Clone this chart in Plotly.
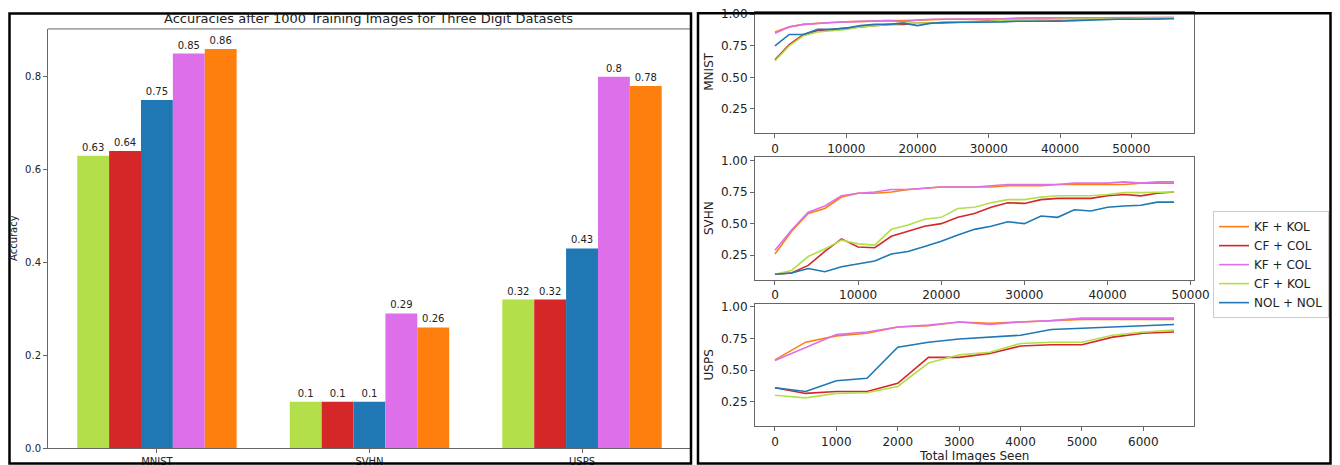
import plotly.graph_objects as go

W, H = 1340, 465
FONT = "DejaVu Sans"

# ---------------- bar chart data ----------------
datasets = ["MNIST", "SVHN", "USPS"]
bar_cf_kol = [0.63, 0.1, 0.32]
bar_cf_col = [0.64, 0.1, 0.32]
bar_nol_nol = [0.75, 0.1, 0.43]
bar_kf_col = [0.85, 0.29, 0.8]
bar_kf_kol = [0.86, 0.26, 0.78]

# ---------------- line chart data ----------------
mnist_x = list(range(0, 56001, 2000))
mnist_kf_kol = [0.86, 0.90, 0.92, 0.93, 0.935, 0.94, 0.945, 0.945, 0.95, 0.95, 0.955, 0.955, 0.96, 0.96,
                0.96, 0.965, 0.965, 0.965, 0.97, 0.97, 0.97, 0.97, 0.97, 0.97, 0.975, 0.975, 0.975, 0.975, 0.975]
mnist_cf_col = [0.64, 0.76, 0.84, 0.87, 0.88, 0.89, 0.90, 0.91, 0.92, 0.92, 0.93, 0.93, 0.935, 0.94,
                0.94, 0.945, 0.95, 0.95, 0.95, 0.955, 0.955, 0.96, 0.96, 0.96, 0.965, 0.965, 0.965, 0.965, 0.97]
mnist_kf_col = [0.85, 0.90, 0.92, 0.93, 0.935, 0.94, 0.945, 0.95, 0.95, 0.94, 0.955, 0.96, 0.96, 0.96,
                0.965, 0.965, 0.965, 0.97, 0.97, 0.97, 0.97, 0.97, 0.97, 0.975, 0.975, 0.975, 0.975, 0.975, 0.975]
mnist_cf_kol = [0.63, 0.75, 0.83, 0.86, 0.87, 0.88, 0.90, 0.91, 0.92, 0.93, 0.93, 0.93, 0.94, 0.94,
                0.94, 0.945, 0.95, 0.95, 0.955, 0.955, 0.96, 0.96, 0.96, 0.965, 0.965, 0.965, 0.97, 0.97, 0.97]
mnist_nol_nol = [0.75, 0.84, 0.84, 0.88, 0.88, 0.89, 0.91, 0.92, 0.92, 0.93, 0.91, 0.93, 0.935, 0.935,
                 0.94, 0.94, 0.94, 0.945, 0.945, 0.94, 0.945, 0.95, 0.955, 0.955, 0.96, 0.96, 0.96, 0.965, 0.965]

svhn_x = list(range(0, 48001, 2000))
svhn_kf_kol = [0.26, 0.44, 0.58, 0.62, 0.71, 0.74, 0.74, 0.75, 0.77, 0.78, 0.79, 0.79, 0.79,
               0.79, 0.80, 0.80, 0.80, 0.81, 0.81, 0.81, 0.81, 0.81, 0.82, 0.82, 0.82]
svhn_cf_col = [0.10, 0.11, 0.17, 0.28, 0.38, 0.315, 0.31, 0.40, 0.44, 0.48, 0.50, 0.55, 0.58,
               0.63, 0.665, 0.66, 0.69, 0.70, 0.70, 0.70, 0.72, 0.73, 0.72, 0.74, 0.75]
svhn_kf_col = [0.29, 0.45, 0.59, 0.64, 0.72, 0.74, 0.75, 0.77, 0.77, 0.78, 0.79, 0.79, 0.79,
               0.80, 0.81, 0.81, 0.81, 0.81, 0.82, 0.82, 0.82, 0.83, 0.82, 0.83, 0.83]
svhn_cf_kol = [0.10, 0.13, 0.24, 0.30, 0.37, 0.34, 0.33, 0.455, 0.49, 0.535, 0.55, 0.62, 0.63,
               0.665, 0.69, 0.69, 0.71, 0.72, 0.72, 0.72, 0.73, 0.745, 0.745, 0.745, 0.75]
svhn_nol_nol = [0.10, 0.11, 0.145, 0.12, 0.16, 0.18, 0.205, 0.26, 0.28, 0.32, 0.36, 0.41, 0.455,
                0.48, 0.515, 0.50, 0.56, 0.55, 0.61, 0.60, 0.63, 0.64, 0.645, 0.67, 0.67]

usps_x = list(range(0, 6501, 500))
usps_kf_kol = [0.58, 0.72, 0.77, 0.79, 0.84, 0.85, 0.88, 0.87, 0.88, 0.89, 0.90, 0.90, 0.90, 0.90]
usps_cf_col = [0.36, 0.315, 0.33, 0.33, 0.395, 0.60, 0.60, 0.63, 0.69, 0.70, 0.70, 0.76, 0.79, 0.80]
usps_kf_col = [0.575, 0.68, 0.78, 0.80, 0.84, 0.855, 0.88, 0.86, 0.88, 0.89, 0.91, 0.91, 0.91, 0.91]
usps_cf_kol = [0.30, 0.28, 0.315, 0.32, 0.37, 0.555, 0.62, 0.64, 0.71, 0.72, 0.72, 0.775, 0.80, 0.815]
usps_nol_nol = [0.36, 0.33, 0.415, 0.435, 0.68, 0.72, 0.745, 0.76, 0.775, 0.82, 0.83, 0.84, 0.855, 0.86]

series_names = ["KF + KOL", "CF + COL", "KF + COL", "CF + KOL", "NOL + NOL"]
C_ORANGE, C_RED, C_PINK, C_GREEN, C_BLUE = "#ff7f0e", "#d62728", "#dd70ea", "#b3df4a", "#1f77b4"
series_colors = [C_ORANGE, C_RED, C_PINK, C_GREEN, C_BLUE]

# The page shows the figure offset by the body margin, in a 1324 x 457 box.
OX, OY, EW, EH = 8, 8, 1324, 457


def px(x):
    return (x - OX) / EW


def py(y):
    return 1 - (y - OY) / EH


fig = go.Figure()

# ---------- bars ----------
for vals, col in zip([bar_cf_kol, bar_cf_col, bar_nol_nol, bar_kf_col, bar_kf_kol],
                     [C_GREEN, C_RED, C_BLUE, C_PINK, C_ORANGE]):
    fig.add_trace(go.Bar(
        x=datasets, y=vals, marker=dict(color=col, line=dict(width=0)),
        text=[str(v) for v in vals], textposition="outside", cliponaxis=False,
        textfont=dict(family=FONT, size=10, color="#222"),
        showlegend=False, xaxis="x", yaxis="y"))

# ---------- lines ----------
panels = [
    (mnist_x, [mnist_kf_kol, mnist_cf_col, mnist_kf_col, mnist_cf_kol, mnist_nol_nol], "x2", "y2", True),
    (svhn_x, [svhn_kf_kol, svhn_cf_col, svhn_kf_col, svhn_cf_kol, svhn_nol_nol], "x3", "y3", False),
    (usps_x, [usps_kf_kol, usps_cf_col, usps_kf_col, usps_cf_kol, usps_nol_nol], "x4", "y4", False),
]
for xs, ys_list, xa, ya, leg in panels:
    for name, ys, col in zip(series_names, ys_list, series_colors):
        fig.add_trace(go.Scatter(
            x=xs, y=ys, mode="lines", name=name, legendgroup=name,
            line=dict(color=col, width=1.6), showlegend=leg, xaxis=xa, yaxis=ya))

AX = dict(showline=True, mirror=True, linecolor="#666", linewidth=1, ticks="outside",
          ticklen=4, tickcolor="#666", showgrid=False, zeroline=False, ticklabeloverflow="allow")
YR = [0.056, 1.024]

lay = dict(
    width=W, height=H, margin=dict(l=0, r=0, t=0, b=0),
    paper_bgcolor="white", plot_bgcolor="white",
    font=dict(family=FONT, color="#222"),
    bargap=0.25, bargroupgap=0,
    xaxis=dict(AX, domain=[px(48), px(690)], type="category", range=[-0.5125, 2.508],
               tickfont=dict(size=10), mirror=False, anchor="y"),
    yaxis=dict(AX, domain=[py(446), py(25)], range=[0, 0.903], tickvals=[0, 0.2, 0.4, 0.6, 0.8],
               ticktext=["0.0", "0.2", "0.4", "0.6", "0.8"], tickfont=dict(size=10), anchor="x"),
    xaxis2=dict(AX, domain=[px(755), px(1194)], range=[-2800, 58800], dtick=10000, tick0=0,
                tickformat="d", tickfont=dict(size=12), anchor="y2"),
    yaxis2=dict(AX, domain=[py(130), 1.0], range=[YR[0], 1.018], dtick=0.25, tick0=0,
                tickformat=".2f", tickfont=dict(size=12), anchor="x2"),
    xaxis3=dict(AX, domain=[px(755), px(1194)], range=[-2400, 50400], dtick=10000, tick0=0,
                tickformat="d", tickfont=dict(size=12), anchor="y3"),
    yaxis3=dict(AX, domain=[py(277), py(154)], range=YR, dtick=0.25, tick0=0,
                tickformat=".2f", tickfont=dict(size=12), anchor="x3"),
    xaxis4=dict(AX, domain=[px(755), px(1194)], range=[-325, 6825], dtick=1000, tick0=0,
                tickformat="d", tickfont=dict(size=12), anchor="y4"),
    yaxis4=dict(AX, domain=[py(424), py(301)], range=YR, dtick=0.25, tick0=0,
                tickformat=".2f", tickfont=dict(size=12), anchor="x4"),
    legend=dict(x=px(1213), y=py(208), xanchor="left", yanchor="top",
                bgcolor="white", bordercolor="#ccc", borderwidth=1,
                font=dict(family=FONT, size=12, color="#222"), itemwidth=30,
                tracegroupgap=0),
)
fig.update_layout(**lay)

# top spine of bar chart (right spine is cropped away)
fig.add_shape(type="line", xref="paper", yref="paper", x0=px(48), x1=px(691), y0=py(25), y1=py(25),
              line=dict(color="#666", width=1))

# legend shadow
fig.add_shape(type="rect", xref="paper", yref="paper", x0=px(1216), x1=px(1331), y0=py(314), y1=py(212),
              line=dict(width=0), fillcolor="rgba(0,0,0,0.25)", layer="below")

# panel borders
fig.add_shape(type="rect", xref="paper", yref="paper", x0=px(9.5), x1=px(691), y0=py(461.5), y1=py(9.5),
              line=dict(color="black", width=2.5))
fig.add_shape(type="rect", xref="paper", yref="paper", x0=px(698), x1=px(1330.5), y0=py(461.5), y1=py(9.3),
              line=dict(color="black", width=2.5))

ann = [
    ("Accuracies after 1000 Training Images for Three Digit Datasets", 369, 15, 0, 13),
    ("Accuracy", 13, 235, -90, 10),
    ("MNIST", 709, 68, -90, 12),
    ("SVHN", 709, 215, -90, 12),
    ("USPS", 709, 362, -90, 12),
    ("Total Images Seen", 974, 454, 0, 12),
]
for text, ax_, ay_, ang, fs in ann:
    fig.add_annotation(xref="paper", yref="paper", showarrow=False, xanchor="center", yanchor="middle",
                       text=text, x=px(ax_), y=py(ay_), textangle=ang,
                       font=dict(family=FONT, color="#222", size=fs))

fig.write_html("out.html")
